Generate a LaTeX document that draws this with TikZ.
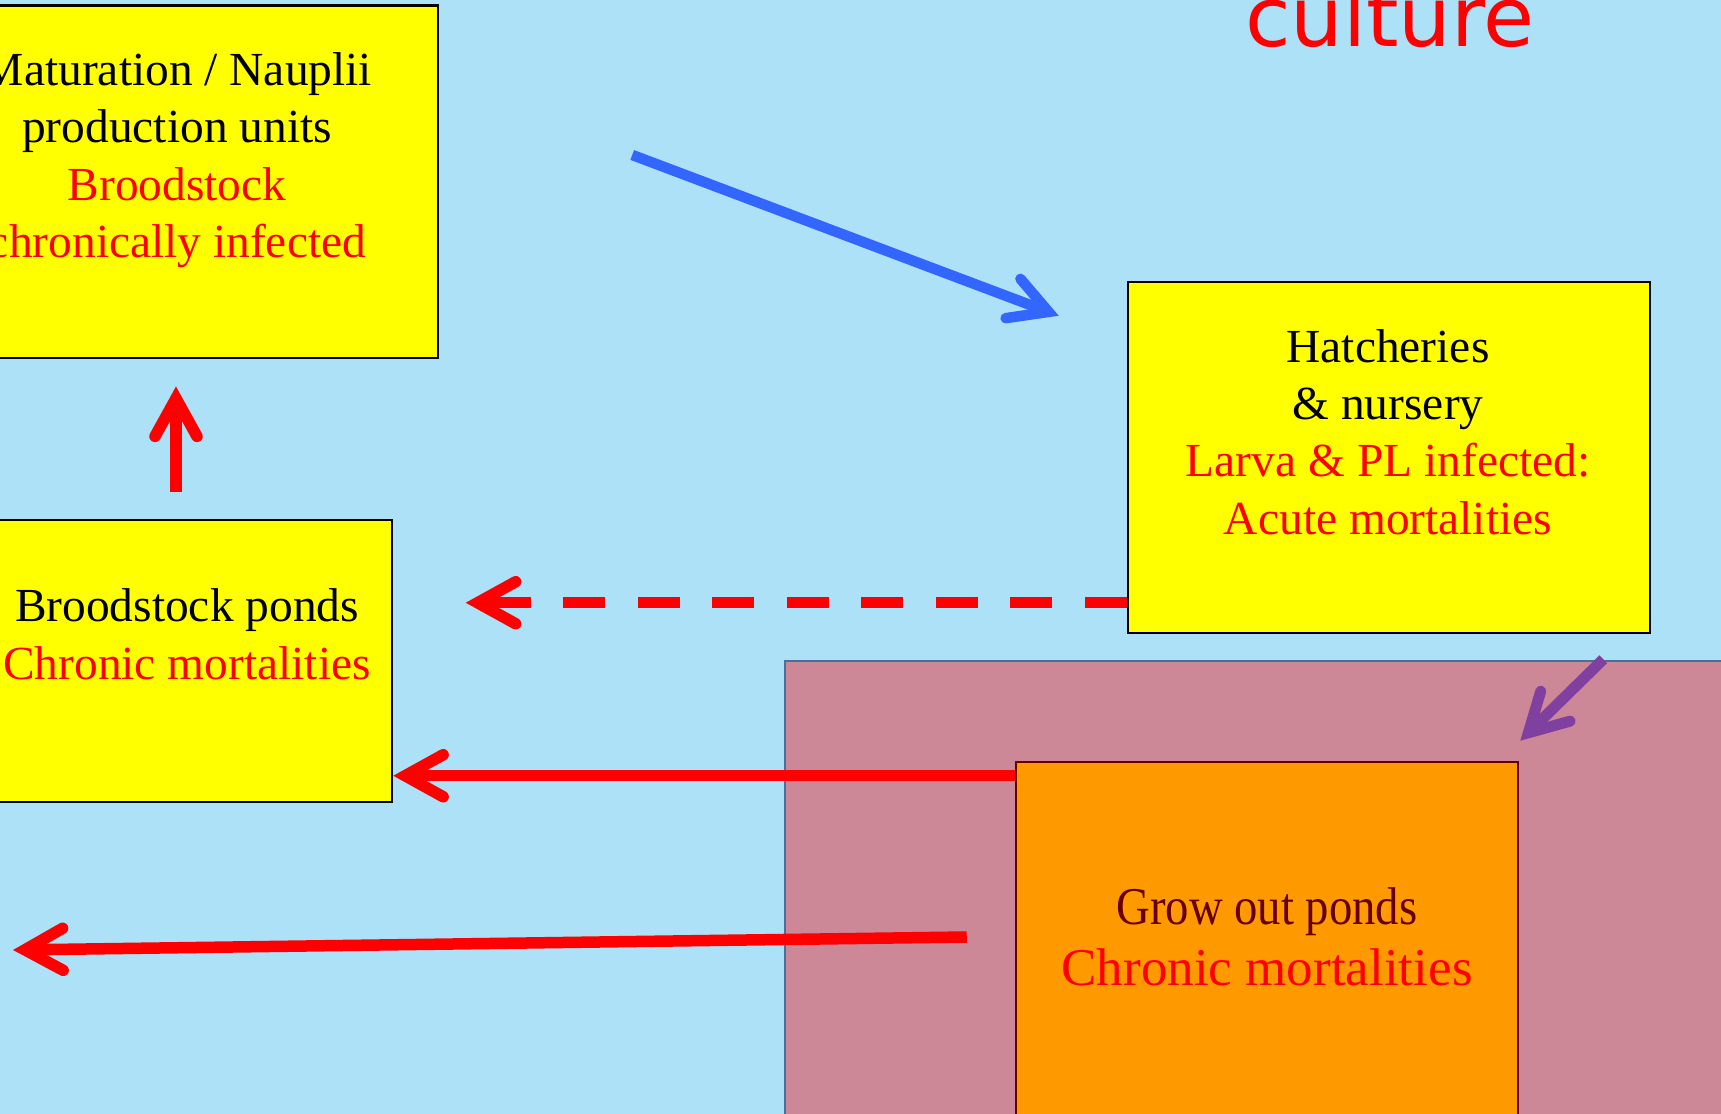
\documentclass[tikz,border=0pt]{standalone}
\usepackage{fontspec}
\setmainfont{Liberation Serif}
\newfontfamily\culturefont{DejaVu Sans}
\usetikzlibrary{arrows.meta,calc}
\definecolor{seablue}{HTML}{ADE1F8}
\definecolor{mauve}{HTML}{CC8896}
\definecolor{pondline}{HTML}{4A6E9E}
\definecolor{growfill}{HTML}{FF9900}
\definecolor{darkred}{HTML}{660000}
\definecolor{flowblue}{HTML}{3366FF}
\definecolor{flowpurple}{HTML}{8040A0}
\definecolor{boxyellow}{HTML}{FFFF00}
\tikzset{
  box/.style={draw=black,line width=0.25mm,fill=boxyellow,inner sep=0pt},
  txt/.style={align=center,inner sep=0pt,anchor=base,font=\fontsize{13.5}{16.3}\selectfont},
  barb/.style={-{Straight Barb[length=3.8mm,width=4.2mm,line cap=round,line join=miter]}},
  flow/.style={barb,draw=red,line width=1.15mm}
}
\begin{document}
\begin{tikzpicture}[x=0.1mm,y=-0.1mm]
\useasboundingbox (0,0) rectangle (1721,1114);
\clip (0,0) rectangle (1721,1114);
\fill[seablue] (0,0) rectangle (1721,1114);
\filldraw[fill=mauve,draw=pondline,line width=0.2mm] (785,661) rectangle (1740,1130);
\node[font=\culturefont\fontsize{23.6}{28}\selectfont,text=red,anchor=base] (ttl) at (1390,47) {culture};
\node[box,minimum width=52.4mm,minimum height=35.25mm] (mat) at (176,182) {};
\node[box,minimum width=41mm,minimum height=28.2mm] (brood) at (187,661) {};
\node[box,minimum width=52.2mm,minimum height=35.1mm] (hatch) at (1389,457.5) {};
\node[draw=darkred,line width=0.25mm,fill=growfill,inner sep=0pt,minimum width=50.2mm,minimum height=36.8mm] (grow) at (1267,946) {};
\node[txt] (matT) at ($(mat.south)+(1,-102)$) {Maturation / Nauplii\\production units\\
  \textcolor{red}{Broodstock}\\\textcolor{red}{chronically infected}};
\node[txt] (broodT) at ($(brood.south)+(0,-124)$) {Broodstock ponds\\\textcolor{red}{Chronic mortalities}};
\node[txt] (hatchT) at ($(hatch.south)+(-1,-100)$) {Hatcheries\\\& nursery\\
  \textcolor{red}{Larva \& PL infected:}\\\textcolor{red}{Acute mortalities}};
\node[txt,font=\fontsize{15.1}{17.4}\selectfont] (growT) at ($(grow.north)+(0,225)$)
  {\textcolor{darkred}{\scalebox{0.88}[1]{Grow out ponds}}\\\textcolor{red}{Chronic mortalities}};
\coordinate (d1) at ($(hatch.south west)+(0,-31.5)$);
\coordinate (g1) at ($(grow.north west)+(0,15)$);
\coordinate (g2) at ($(grow.west)+(-48,-9)$);
\coordinate (away) at (13,950);
\coordinate (b1) at ($(mat.north east)+(193,150.5)$);
\coordinate (b2) at ($(hatch.north west)+(-68,35)$);
\coordinate (p1) at ($(hatch.south east)+(-48,25)$);
\coordinate (p2) at ($(grow.north east)+(1,-20)$);
\draw[flow,shorten <=2.7mm,shorten >=2.7mm] (brood.north -| mat.south) -- (mat.south);
\draw[flow,dash pattern=on 4.2mm off 3.25mm,shorten >=7.25mm] (d1) -- (d1 -| brood.east);
\draw[flow] (g1) -- (g1 -| brood.east);
\draw[flow] (g2) -- (away);
\draw[barb,draw=flowblue,line width=1.05mm] (b1) -- (b2);
\draw[barb,draw=flowpurple,line width=1.1mm] (p1) -- (p2);
\end{tikzpicture}
\end{document}
